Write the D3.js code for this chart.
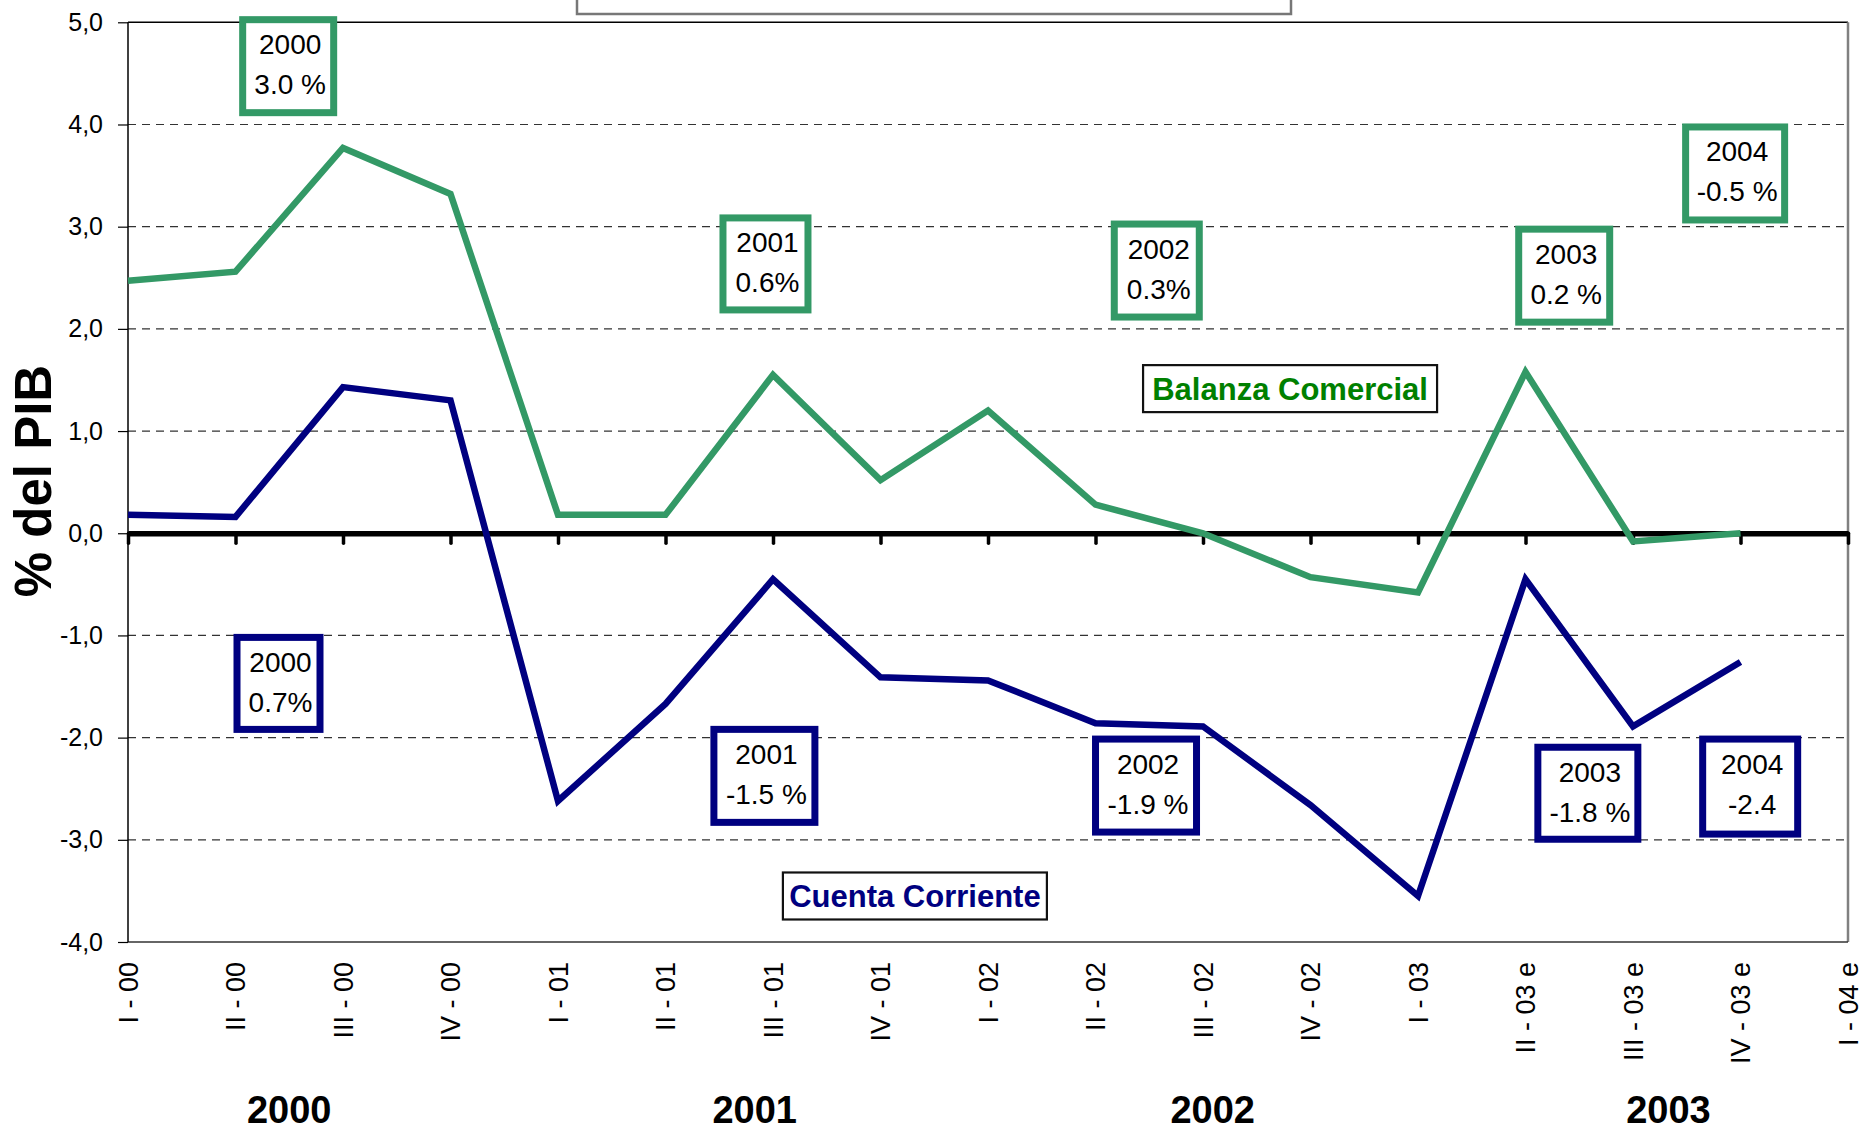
<!DOCTYPE html>
<html>
<head>
<meta charset="utf-8">
<script src="https://cdn.jsdelivr.net/npm/d3@7"></script>
<style>
    body { margin: 0; background: #fff; }
    text { font-family: "Liberation Sans", Arial, sans-serif; }
</style>
</head>
<body>
<div id="chartContainer"></div>
<script>
// quarters on the x axis
const quarters = ['I - 00', 'II - 00', 'III - 00', 'IV - 00',
    'I - 01', 'II - 01', 'III - 01', 'IV - 01',
    'I - 02', 'II - 02', 'III - 02', 'IV - 02',
    'I - 03', 'II - 03 e', 'III - 03 e', 'IV - 03 e', 'I - 04 e'];

// % del PIB
const balanzaComercial = [2.47, 2.56, 3.77, 3.32, 0.18, 0.18, 1.55, 0.52,
    1.20, 0.28, 0.00, -0.43, -0.58, 1.58, -0.08, 0.00];
const cuentaCorriente = [0.18, 0.16, 1.43, 1.30, -2.62, -1.67, -0.45, -1.41,
    -1.44, -1.86, -1.89, -2.66, -3.55, -0.45, -1.89, -1.26];

const yTicks = [5, 4, 3, 2, 1, 0, -1, -2, -3, -4];
const years = ['2000', '2001', '2002', '2003'];

// yearly totals written in the boxes
const balanzaNotes = [['2000', '3.0 %'], ['2001', '0.6%'], ['2002', '0.3%'], ['2003', '0.2 %'], ['2004', '-0.5 %']];
const cuentaNotes = [['2000', '0.7%'], ['2001', '-1.5 %'], ['2002', '-1.9 %'], ['2003', '-1.8 %'], ['2004', '-2.4', '%']];

// where the boxes sit (category index for x, axis value for the top edge)
const balanzaNoteLayout = [
    { at: 1.49, top: 5.06, w: 98, h: 100 },
    { at: 5.93, top: 3.12, w: 92, h: 99 },
    { at: 9.57, top: 3.06, w: 92, h: 100 },
    { at: 13.36, top: 3.01, w: 98, h: 100 },
    { at: 14.95, top: 4.01, w: 106, h: 100 },
];
const cuentaNoteLayout = [
    { at: 1.40, top: -0.985, w: 90, h: 99 },
    { at: 5.92, top: -1.885, w: 108, h: 100 },
    { at: 9.47, top: -1.98, w: 108, h: 100 },
    { at: 13.58, top: -2.06, w: 107, h: 99 },
    { at: 15.09, top: -1.98, w: 102, h: 102 },
];
const yearLayout = [1.5, 5.83, 10.09, 14.33];

const svgWidth = 1861;
const svgHeight = 1132;
const plot = { left: 128, right: 1848, top: 22.3, bottom: 942 };

const green = '#339966';
const navy = '#000080';

const svg = d3.select('#chartContainer')
    .append('svg')
    .attr('width', svgWidth)
    .attr('height', svgHeight)
    .style('display', 'block');

const xScale = d3.scalePoint()
    .domain(quarters)
    .range([plot.left, plot.right]);

const yScale = d3.scaleLinear()
    .domain([-4, 5])
    .range([plot.bottom, plot.top]);

const xAt = i => plot.left + i * xScale.step();

const fmt = d3.formatLocale({ decimal: ',', thousands: '.', grouping: [3], currency: ['', ''], minus: '-' })
    .format('.1f');

// cut-off title box at the very top
svg.append('rect')
    .attr('x', 577)
    .attr('y', -20)
    .attr('width', 714)
    .attr('height', 34)
    .attr('fill', '#fff')
    .attr('stroke', '#777')
    .attr('stroke-width', 2.5);

// dashed gridlines
svg.append('g')
    .selectAll('line')
    .data(yTicks.filter(d => d !== 0 && d !== 5 && d !== -4))
    .join('line')
    .attr('x1', plot.left)
    .attr('x2', plot.right)
    .attr('y1', d => yScale(d))
    .attr('y2', d => yScale(d))
    .attr('stroke', '#333')
    .attr('stroke-width', 1.2)
    .attr('stroke-dasharray', '8,6');

// plot frame
svg.append('line')
    .attr('x1', plot.left).attr('x2', plot.right)
    .attr('y1', plot.top).attr('y2', plot.top)
    .attr('stroke', '#000').attr('stroke-width', 1.5);
svg.append('line')
    .attr('x1', plot.right).attr('x2', plot.right)
    .attr('y1', plot.top).attr('y2', plot.bottom)
    .attr('stroke', '#808080').attr('stroke-width', 2.5);
svg.append('line')
    .attr('x1', plot.left).attr('x2', plot.right)
    .attr('y1', plot.bottom).attr('y2', plot.bottom)
    .attr('stroke', '#333').attr('stroke-width', 1.5);

// y axis
const yAxis = d3.axisLeft(yScale)
    .tickValues(yTicks)
    .tickFormat(fmt)
    .tickSize(10)
    .tickPadding(15);

svg.append('g')
    .attr('class', 'y-axis')
    .attr('transform', `translate(${plot.left}, 0)`)
    .call(yAxis)
    .call(g => g.select('.domain').remove())
    .call(g => g.selectAll('line').attr('stroke', '#000').attr('stroke-width', 1.2))
    .call(g => g.selectAll('text')
        .attr('font-size', 25)
        .attr('fill', '#000')
        .style('font-family', '"Liberation Sans", Arial, sans-serif'));

svg.append('line')
    .attr('x1', plot.left).attr('x2', plot.left)
    .attr('y1', plot.top).attr('y2', plot.bottom)
    .attr('stroke', '#000').attr('stroke-width', 1.5);

// zero line with tick marks
const zeroAxis = d3.axisBottom(xScale)
    .tickSize(10)
    .tickSizeOuter(0)
    .tickFormat('');

svg.append('g')
    .attr('class', 'zero-axis')
    .attr('transform', `translate(0, ${yScale(0)})`)
    .call(zeroAxis)
    .call(g => g.select('.domain').attr('stroke', '#000').attr('stroke-width', 5.5))
    .call(g => g.selectAll('.tick line')
        .attr('stroke', '#000')
        .attr('stroke-width', 3.5)
        .attr('stroke-linecap', 'round'));

// quarter labels at the bottom
const xAxis = d3.axisBottom(xScale).tickSize(0);

svg.append('g')
    .attr('class', 'x-axis')
    .attr('transform', `translate(0, ${plot.bottom})`)
    .call(xAxis)
    .call(g => g.select('.domain').remove())
    .call(g => g.selectAll('text')
        .attr('transform', 'rotate(-90)')
        .attr('text-anchor', 'end')
        .attr('x', -20)
        .attr('y', 0)
        .attr('dy', '0.35em')
        .attr('font-size', 27)
        .attr('fill', '#000')
        .style('font-family', '"Liberation Sans", Arial, sans-serif'));

// year labels
svg.append('g')
    .selectAll('text')
    .data(years)
    .join('text')
    .attr('x', (d, i) => xAt(yearLayout[i]))
    .attr('y', plot.bottom + 181)
    .attr('text-anchor', 'middle')
    .attr('font-size', 38)
    .attr('font-weight', 'bold')
    .text(d => d);

// axis title
svg.append('text')
    .attr('transform', 'translate(51, 481) rotate(-90)')
    .attr('text-anchor', 'middle')
    .attr('font-size', 51)
    .attr('font-weight', 'bold')
    .text('% del PIB');

// series lines
const line = d3.line()
    .x((d, i) => xScale(quarters[i]))
    .y(d => yScale(d));

svg.append('path')
    .datum(cuentaCorriente)
    .attr('fill', 'none')
    .attr('stroke', navy)
    .attr('stroke-width', 6.5)
    .attr('stroke-linejoin', 'miter')
    .attr('d', line);

svg.append('path')
    .datum(balanzaComercial)
    .attr('fill', 'none')
    .attr('stroke', green)
    .attr('stroke-width', 6.5)
    .attr('stroke-linejoin', 'miter')
    .attr('d', line);

// boxes with yearly totals
const defs = svg.append('defs');
let clipCount = 0;

function drawNotes(notes, layout, color) {
    const sw = 7;
    notes.forEach((lines, i) => {
        const l = layout[i];
        const left = xAt(l.at) - l.w / 2;
        const top = yScale(l.top);
        const id = 'noteclip' + (clipCount++);

        defs.append('clipPath')
            .attr('id', id)
            .append('rect')
            .attr('x', left + sw)
            .attr('y', top + sw)
            .attr('width', l.w - 2 * sw)
            .attr('height', l.h - 2 * sw);

        const g = svg.append('g');
        g.append('rect')
            .attr('x', left + sw / 2)
            .attr('y', top + sw / 2)
            .attr('width', l.w - sw)
            .attr('height', l.h - sw)
            .attr('fill', '#fff')
            .attr('stroke', color)
            .attr('stroke-width', sw);

        g.append('g')
            .attr('clip-path', `url(#${id})`)
            .selectAll('text')
            .data(lines)
            .join('text')
            .attr('x', left + l.w / 2 + 2)
            .attr('y', (d, k) => top + 38 + k * 40)
            .attr('text-anchor', 'middle')
            .attr('font-size', 28)
            .attr('fill', '#000')
            .text(d => d);
    });
}

drawNotes(balanzaNotes, balanzaNoteLayout, green);
drawNotes(cuentaNotes, cuentaNoteLayout, navy);

// series name labels
function seriesLabel(name, color, at, top, w, h) {
    const left = xAt(at) - w / 2;
    const t = yScale(top);
    svg.append('rect')
        .attr('x', left + 1)
        .attr('y', t + 1)
        .attr('width', w - 2)
        .attr('height', h - 2)
        .attr('fill', '#fff')
        .attr('stroke', '#111')
        .attr('stroke-width', 2.2);
    svg.append('text')
        .attr('x', left + w / 2)
        .attr('y', t + 36)
        .attr('text-anchor', 'middle')
        .attr('font-size', 31)
        .attr('font-weight', 'bold')
        .attr('fill', color)
        .text(name);
}

seriesLabel('Balanza Comercial', '#008000', 10.81, 1.655, 296, 49);
seriesLabel('Cuenta Corriente', navy, 7.32, -3.31, 266, 49);
</script>
</body>
</html>
